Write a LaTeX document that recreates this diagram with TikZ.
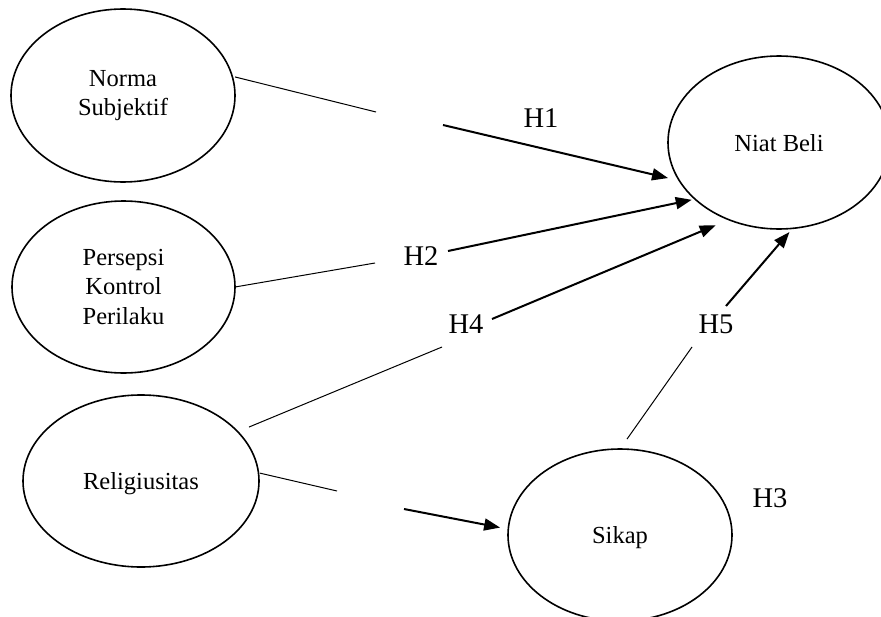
\documentclass[tikz,border=0pt]{standalone}
\usepackage{fontspec}
\setmainfont{Liberation Serif}
\usetikzlibrary{shapes.geometric,arrows.meta}
\begin{document}
\begin{tikzpicture}[x=1pt,y=-1pt,
  latent/.style={draw, line width=1.6pt, ellipse, inner sep=0pt, outer sep=0pt,
    align=center, font=\fontsize{24.5}{29.5}\selectfont},
  hyp/.style={anchor=base, inner sep=0pt, font=\fontsize{28.5}{34}\selectfont},
  thinline/.style={line width=1pt},
  thickarrow/.style={line width=2pt, -{Triangle[length=16pt,width=12pt]}}]
\useasboundingbox (0,0) rectangle (881,616);
\clip (0,0) rectangle (881,616);

% latent variables
\node[latent, minimum width=224pt, minimum height=173pt] (norma) at (123,95.5) {Norma\\Subjektif};
\node[latent, minimum width=223pt, minimum height=172pt] (persepsi) at (123.5,287) {Persepsi\\Kontrol\\Perilaku};
\node[latent, minimum width=236pt, minimum height=172pt, text depth=0pt] (relig) at (141,481) {Religiusitas};
\node[latent, minimum width=222pt, minimum height=173pt, text depth=0pt] (niat) at (779,142.5) {Niat Beli};
\node[latent, minimum width=224pt, minimum height=172pt, text depth=0pt] (sikap) at (620,535) {Sikap};

% hypothesis labels
\node[hyp] (h1) at (541,127) {H1};
\node[hyp] (h2) at (421,265) {H2};
\node[hyp] (h4) at (466,333) {H4};
\node[hyp] (h5) at (716,333) {H5};
\node[hyp] (h3) at (770,507) {H3};

% gap ends of the split connectors
\coordinate (g1a) at (376,112); \coordinate (g1b) at (443,125);
\coordinate (g2a) at (375,263); \coordinate (g2b) at (448,251);
\coordinate (g4a) at (442,347); \coordinate (g4b) at (492,319);
\coordinate (g5a) at (692,347); \coordinate (g5b) at (726,306);
\coordinate (g3a) at (337,491); \coordinate (g3b) at (404,509);

% connectors
\draw[thinline, shorten <=3pt] (norma.10) -- (g1a);
\draw[thickarrow, shorten >=11.7pt] (g1b) -- (niat.201);
\draw[thinline, shorten <=1pt] (persepsi.0) -- (g2a);
\draw[thickarrow, shorten >=3.4pt] (g2b) -- (niat.214);
\draw[thinline, shorten <=12.2pt] (relig.27) -- (g4a);
\draw[thickarrow, shorten >=14.3pt] (g4b) -- (niat.237);
\draw[thinline, shorten <=12.2pt] (sikap.90) -- (g5a);
\draw[thickarrow, shorten >=4.9pt] (g5b) -- (niat.279);
\draw[thinline, shorten <=1.6pt] (relig.4) -- (g3a);
\draw[thickarrow, shorten >=8.3pt] (g3b) -- (sikap.177);
\end{tikzpicture}
\end{document}
